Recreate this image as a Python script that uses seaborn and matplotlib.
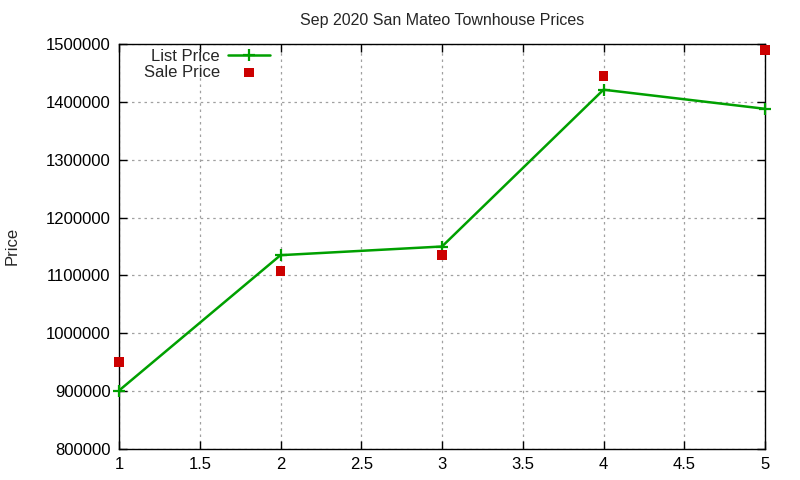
import matplotlib
matplotlib.use("Agg")
import matplotlib.pyplot as plt
import matplotlib.ticker as mticker
import seaborn as sns
import pandas as pd

# Values
homes = [1, 2, 3, 4, 5]
list_price = [901000, 1135000, 1150000, 1421000, 1388000]
sale_price = [950000, 1107000, 1135000, 1445000, 1490000]

df = pd.DataFrame({"Home": homes, "List Price": list_price, "Sale Price": sale_price})

sns.set_style("ticks")
plt.rcParams["font.family"] = ["Liberation Sans", "DejaVu Sans"]

fig = plt.figure(figsize=(8, 4.8), dpi=100)
ax = fig.add_axes([119 / 800, 1 - 449 / 480, (765 - 119) / 800, (449 - 44) / 480])

green = "#00a000"
sns.lineplot(data=df, x="Home", y="List Price", ax=ax, color=green, linewidth=1.8,
             marker="+", markersize=9, markeredgewidth=1.6, markeredgecolor=green,
             markerfacecolor=green, label="List Price", clip_on=False, zorder=3)
sns.scatterplot(data=df, x="Home", y="Sale Price", ax=ax, color="#cc0000", marker="s",
                s=50, edgecolor="none", label="Sale Price", zorder=4, clip_on=False)

ax.set_xlim(1, 5)
ax.set_ylim(800000, 1500000)
ax.xaxis.set_major_locator(mticker.MultipleLocator(0.5))
ax.yaxis.set_major_locator(mticker.MultipleLocator(100000))
ax.xaxis.set_major_formatter(mticker.FuncFormatter(lambda v, p: f"{v:g}"))
ax.yaxis.set_major_formatter(mticker.FuncFormatter(lambda v, p: f"{int(v)}"))

ax.grid(True, color="#a0a0a0", linestyle=(0, (2, 3)), linewidth=0.9)
ax.tick_params(direction="in", top=True, right=True, length=6, width=1, labelsize=12, colors="black")
ax.tick_params(axis="x", pad=6)
ax.tick_params(axis="y", pad=6)
for s in ax.spines.values():
    s.set_linewidth(1)
    s.set_color("black")

ax.set_xlabel("")
ax.set_ylabel("")
fig.text(12 / 800, 1 - 246 / 480, "Price", rotation=90, fontsize=12, ha="center", va="center")
ax.set_title("Sep 2020 San Mateo Townhouse Prices", fontsize=11.5, pad=14)

ax.legend(loc="upper right", bbox_to_anchor=(270 / 800, 1 - 49 / 480),
          bbox_transform=fig.transFigure, frameon=False, markerfirst=False,
          fontsize=12, handlelength=2.5, labelspacing=0.05, borderpad=0,
          borderaxespad=0, handletextpad=0.5)

fig.savefig("out.png", dpi=100)
